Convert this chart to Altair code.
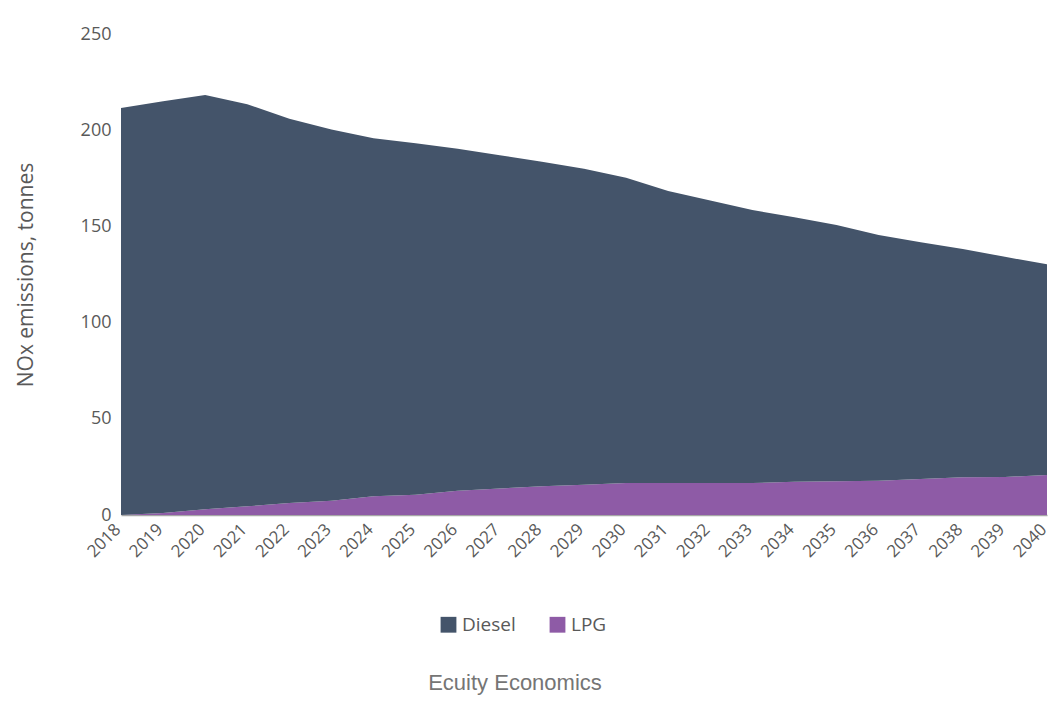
import altair as alt
import pandas as pd

years = list(range(2018, 2041))
total = [211.5, 215, 218.3, 213.5, 206, 200.4, 195.8, 193.2, 190.4, 187, 183.6, 180,
         175.3, 168.4, 163.4, 158.5, 154.7, 150.7, 145.5, 141.7, 138.3, 134.2, 130.3]
lpg = [0, 1, 3, 4.5, 6.2, 7.4, 9.7, 10.5, 12.6, 13.8, 14.9, 15.7,
       16.6, 16.6, 16.6, 16.6, 17.3, 17.5, 17.8, 18.7, 19.6, 19.8, 20.8]
diesel = [round(t - l, 1) for t, l in zip(total, lpg)]

series = ["Diesel", "LPG"]
colors = ["#44546A", "#8E5BA6"]

rows = []
for i, y in enumerate(years):
    rows.append({"year": y, "fuel": "LPG", "value": lpg[i], "ord": 0})
    rows.append({"year": y, "fuel": "Diesel", "value": diesel[i], "ord": 1})
df = pd.DataFrame(rows)

FONT = "Open Sans"

chart = alt.Chart(df).mark_area(opacity=1).encode(
    x=alt.X("year:Q",
            scale=alt.Scale(domain=[2018, 2040], nice=False, zero=False),
            axis=alt.Axis(values=years, format="d", labelAngle=-45, title=None,
                          grid=False, ticks=False, domainColor="#A6A6A6", domainWidth=1.5,
                          labelColor="#595959", labelFont=FONT, labelFontSize=17,
                          labelPadding=6, labelOffset=-9, labelOverlap=False,
                          labelBound=False)),
    y=alt.Y("value:Q", stack="zero",
            scale=alt.Scale(domain=[0, 250], nice=False),
            axis=alt.Axis(values=[0, 50, 100, 150, 200, 250], title="NOx emissions, tonnes",
                          grid=False, ticks=False, domain=False,
                          labelColor="#595959", labelFont=FONT, labelFontSize=18,
                          labelPadding=10, titleFont=FONT, titleFontSize=21,
                          titleFontWeight="normal", titleColor="#595959", titlePadding=44)),
    color=alt.Color("fuel:N", scale=alt.Scale(domain=series, range=colors),
                    legend=alt.Legend(title=None, orient="none", direction="horizontal",
                                      legendX=318, legendY=581, symbolType="square",
                                      symbolSize=250, symbolOpacity=1, labelFont=FONT,
                                      labelFontSize=19, labelColor="#595959",
                                      columnPadding=32, symbolStrokeWidth=0)),
    order=alt.Order("ord:Q"),
).properties(
    width=926,
    height=481,
    autosize=alt.AutoSizeParams(type="none"),
    padding={"left": 113, "top": 26, "right": 3, "bottom": 180},
    title=alt.TitleParams("Ecuity Economics", orient="bottom", anchor="middle",
                          font="Liberation Sans", fontSize=22, fontWeight="normal",
                          color="#757575", offset=38, dx=-69),
).configure_view(stroke=None)

chart.save("out.html", embed_options={"renderer": "svg", "actions": False})
